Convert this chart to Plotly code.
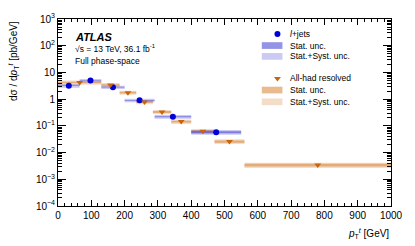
import plotly.graph_objects as go

# ---- data ----
lj_edges = [0, 65, 130, 200, 290, 400, 550]
lj_vals = [3.2, 5.0, 2.8, 0.9, 0.22, 0.058]
lj_stat = [0.03, 0.03, 0.03, 0.04, 0.05, 0.08]
lj_tot = [0.16, 0.14, 0.14, 0.15, 0.16, 0.20]

ah_edges = [0, 130, 185, 235, 285, 340, 400, 470, 560, 1000]
ah_vals = [4.2, 3.4, 1.75, 0.78, 0.33, 0.145, 0.063, 0.026, 0.0034]
ah_stat = [0.06, 0.06, 0.07, 0.07, 0.08, 0.08, 0.09, 0.10, 0.12]
ah_tot = [0.18, 0.17, 0.17, 0.18, 0.18, 0.19, 0.20, 0.20, 0.22]

y_tickvals = [1e-4, 1e-3, 1e-2, 1e-1, 1, 10, 1e2, 1e3]
y_ticktext = ["10<sup>−4</sup>", "10<sup>−3</sup>", "10<sup>−2</sup>", "10<sup>−1</sup>",
              "1", "10", "10<sup>2</sup>", "10<sup>3</sup>"]

BLUE = "#0000d8"
ORANGE = "#c8640a"
B_STAT = "rgba(60,60,210,0.55)"
B_TOT = "rgba(60,60,210,0.27)"
O_STAT = "rgba(214,130,50,0.55)"
O_TOT = "rgba(214,130,50,0.27)"


def band(edges, vals, rel):
    xs, ys = [], []
    for i, v in enumerate(vals):
        x0, x1 = edges[i], edges[i + 1]
        lo, hi = v * (1 - rel[i]), v * (1 + rel[i])
        xs += [x0, x1, x1, x0, x0, None]
        ys += [lo, lo, hi, hi, lo, None]
    return xs, ys


def centers(edges):
    return [(edges[i] + edges[i + 1]) / 2 for i in range(len(edges) - 1)]


fig = go.Figure()
for edges, vals, rel, col in [(ah_edges, ah_vals, ah_tot, O_TOT), (ah_edges, ah_vals, ah_stat, O_STAT),
                              (lj_edges, lj_vals, lj_tot, B_TOT), (lj_edges, lj_vals, lj_stat, B_STAT)]:
    xs, ys = band(edges, vals, rel)
    fig.add_trace(go.Scatter(x=xs, y=ys, fill="toself", fillcolor=col, mode="none",
                             showlegend=False, hoverinfo="skip"))

fig.add_trace(go.Scatter(x=centers(lj_edges), y=lj_vals, mode="markers",
                         marker=dict(symbol="circle", size=6, color=BLUE), showlegend=False))
fig.add_trace(go.Scatter(x=centers(ah_edges), y=ah_vals, mode="markers",
                         marker=dict(symbol="triangle-down", size=6, color=ORANGE), showlegend=False))

# ---- manual legend (overlay axes in plot-fraction units) ----
leg_rows = [0.92, 0.858, 0.80, 0.682, 0.62, 0.557]
leg_labels = ["<i>l</i>+jets", "Stat. unc.", "Stat.+Syst. unc.",
              "All-had resolved", "Stat. unc.", "Stat.+Syst. unc."]
fig.add_trace(go.Scatter(x=[0.659, 0.659], y=[leg_rows[0], leg_rows[3]], mode="markers",
                         xaxis="x2", yaxis="y2", showlegend=False, hoverinfo="skip",
                         marker=dict(symbol=["circle", "triangle-down"], size=6,
                                     color=[BLUE, ORANGE])))
shapes = []
for row, col in zip([leg_rows[1], leg_rows[2], leg_rows[4], leg_rows[5]],
                    [B_STAT, B_TOT, O_STAT, O_TOT]):
    shapes.append(dict(type="rect", xref="x2", yref="y2", x0=0.612, x1=0.674,
                       y0=row - 0.018, y1=row + 0.018, fillcolor=col, line=dict(width=0)))
annotations = []
for row, lab in zip(leg_rows, leg_labels):
    annotations.append(dict(xref="x2", yref="y2", x=0.69, y=row, text=lab, showarrow=False,
                            xanchor="left", yanchor="middle", font=dict(size=8.5, color="black")))

annotations += [
    dict(xref="x2", yref="y2", x=0.045, y=0.905, text="<b><i>ATLAS</i></b>", showarrow=False,
         xanchor="left", yanchor="middle", font=dict(size=11, color="black")),
    dict(xref="x2", yref="y2", x=0.045, y=0.843, text="√s = 13 TeV, 36.1 fb<sup>-1</sup>",
         showarrow=False, xanchor="left", yanchor="middle", font=dict(size=8.5, color="black")),
    dict(xref="x2", yref="y2", x=0.045, y=0.775, text="Full phase-space", showarrow=False,
         xanchor="left", yanchor="middle", font=dict(size=8.5, color="black")),
    dict(xref="paper", yref="paper", x=1.0, y=-0.1, text="<i>p</i><sub>T</sub><sup><i>t</i></sup> [GeV]",
         showarrow=False, xanchor="right", yanchor="top", font=dict(size=10, color="black")),
    dict(xref="paper", yref="paper", x=-0.135, y=1.0,
         text="dσ / d<i>p</i><sub>T</sub><sup><i>t</i></sup> [pb/GeV]", textangle=-90,
         showarrow=False, xanchor="center", yanchor="top", font=dict(size=10, color="black")),
]

y_minor = [m * 10.0 ** e for e in range(-4, 3) for m in range(2, 10)]

fig.update_layout(
    width=415, height=246,
    margin=dict(l=58, r=17, t=13, b=40),
    paper_bgcolor="white", plot_bgcolor="white",
    font=dict(family="Liberation Sans, Arial, sans-serif", size=10, color="black"),
    shapes=shapes, annotations=annotations,
    xaxis=dict(range=[0, 1000], tickmode="linear", tick0=0, dtick=100, ticks="inside",
               ticklen=6, tickcolor="black", showline=True, linecolor="black", linewidth=1,
               mirror="allticks", showgrid=False, zeroline=False,
               minor=dict(ticks="inside", ticklen=3, dtick=20, tick0=0, tickcolor="black",
                          showgrid=False)),
    yaxis=dict(type="log", range=[-4, 3], tickmode="array", tickvals=y_tickvals,
               ticktext=y_ticktext, ticks="inside", ticklen=8, tickcolor="black",
               showline=True, linecolor="black", linewidth=1, mirror="allticks",
               showgrid=False, zeroline=False,
               minor=dict(ticks="inside", ticklen=4, tickmode="array", tickvals=y_minor,
                          tickcolor="black", showgrid=False)),
    xaxis2=dict(overlaying="x", range=[0, 1], visible=False, fixedrange=True),
    yaxis2=dict(overlaying="y", range=[0, 1], visible=False, fixedrange=True),
)

fig.write_html("out.html", config={"displayModeBar": False, "staticPlot": True},
               post_script="document.body.style.margin='0';document.body.style.overflow='hidden';")
